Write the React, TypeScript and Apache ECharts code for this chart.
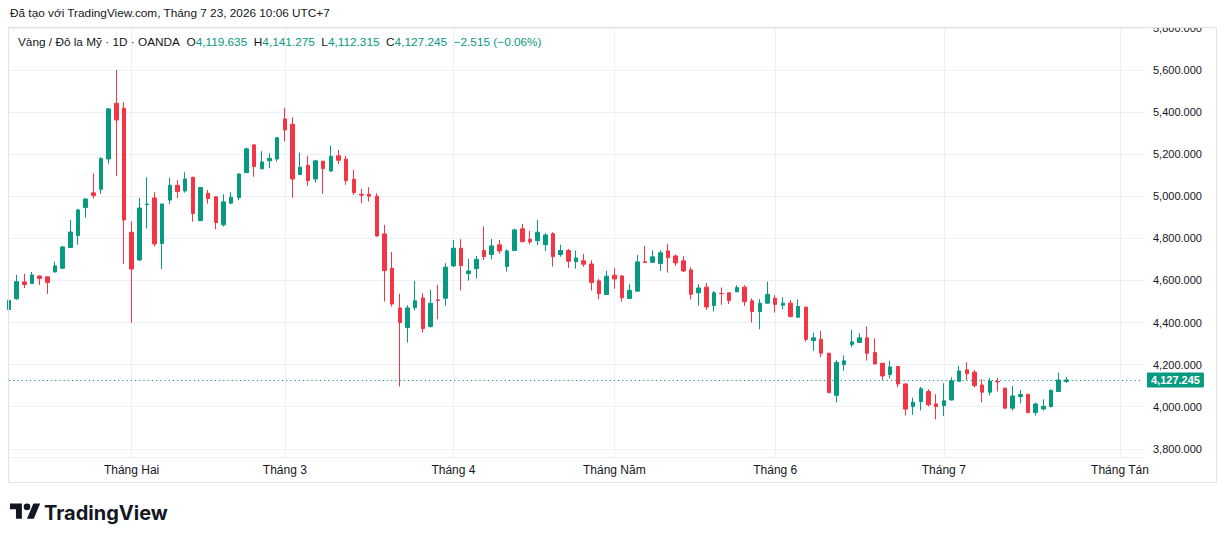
import React, { useEffect, useRef } from "react";
import * as echarts from "echarts";

// ---- Data ----
const tradingDays = [
  "2026-01-09","2026-01-12","2026-01-13","2026-01-14","2026-01-15","2026-01-16","2026-01-19","2026-01-20","2026-01-21","2026-01-22","2026-01-23","2026-01-26","2026-01-27","2026-01-28","2026-01-29","2026-01-30",
  "2026-02-02","2026-02-03","2026-02-04","2026-02-05","2026-02-06","2026-02-09","2026-02-10","2026-02-11","2026-02-12","2026-02-13","2026-02-16","2026-02-17","2026-02-18","2026-02-19","2026-02-20","2026-02-23","2026-02-24","2026-02-25","2026-02-26","2026-02-27",
  "2026-03-02","2026-03-03","2026-03-04","2026-03-05","2026-03-06","2026-03-09","2026-03-10","2026-03-11","2026-03-12","2026-03-13","2026-03-16","2026-03-17","2026-03-18","2026-03-19","2026-03-20","2026-03-23","2026-03-24","2026-03-25","2026-03-26","2026-03-27","2026-03-30","2026-03-31",
  "2026-04-01","2026-04-02","2026-04-06","2026-04-07","2026-04-08","2026-04-09","2026-04-10","2026-04-13","2026-04-14","2026-04-15","2026-04-16","2026-04-17","2026-04-20","2026-04-21","2026-04-22","2026-04-23","2026-04-24","2026-04-27","2026-04-28","2026-04-29","2026-04-30",
  "2026-05-01","2026-05-04","2026-05-05","2026-05-06","2026-05-07","2026-05-08","2026-05-11","2026-05-12","2026-05-13","2026-05-14","2026-05-15","2026-05-18","2026-05-19","2026-05-20","2026-05-21","2026-05-22","2026-05-25","2026-05-26","2026-05-27","2026-05-28","2026-05-29",
  "2026-06-01","2026-06-02","2026-06-03","2026-06-04","2026-06-05","2026-06-08","2026-06-09","2026-06-10","2026-06-11","2026-06-12","2026-06-15","2026-06-16","2026-06-17","2026-06-18","2026-06-19","2026-06-22","2026-06-23","2026-06-24","2026-06-25","2026-06-26","2026-06-29","2026-06-30",
  "2026-07-01","2026-07-02","2026-07-03","2026-07-06","2026-07-07","2026-07-08","2026-07-09","2026-07-10","2026-07-13","2026-07-14","2026-07-15","2026-07-16","2026-07-17","2026-07-20","2026-07-21","2026-07-22","2026-07-23","2026-07-24","2026-07-27","2026-07-28","2026-07-29","2026-07-30","2026-07-31",
  "2026-08-03","2026-08-04","2026-08-05","2026-08-06",
];

const opens = [
  4462,4513,4593,4585,4621,4617,4640,4658,4756,4813,
  4946,5016,5033,5177,5442,5418,4829,4697,4960,4992,
  4775,4982,5052,5025,5090,4884,5014,4997,4864,4967,
  4993,5112,5244,5130,5168,5177,5367,5342,5103,5147,
  5082,5166,5120,5192,5176,5081,5009,5009,5000,4821,
  4658,4469,4376,4471,4517,4381,4507,4515,4669,4753,
  4632,4656,4742,4723,4769,4666,4742,4845,4796,4789,
  4770,4822,4723,4742,4689,4693,4678,4598,4533,4625,
  4621,4514,4549,4689,4686,4680,4740,4716,4693,4650,
  4541,4568,4480,4538,4541,4546,4568,4503,4452,4492,
  4515,4482,4492,4425,4473,4314,4320,4254,4054,4200,
  4295,4305,4327,4257,4206,4153,4191,4108,4001,4024,
  4072,4013,4005,4032,4121,4175,4164,4103,4069,4121,
  4088,3993,4048,4059,3972,3989,4001,4072,4119.635,
];
const closes = [
  4505,4594,4580,4626,4609,4590,4669,4759,4830,4935,
  4987,5003,5179,5415,5362,4887,4654,4944,4963,4773,
  4963,5052,5022,5082,4918,5041,4989,4875,4973,4995,
  5106,5225,5141,5163,5180,5278,5315,5082,5138,5074,
  5168,5131,5190,5171,5074,5017,5005,5000,4811,4647,
  4488,4400,4469,4503,4371,4492,4505,4663,4753,4671,
  4645,4700,4713,4764,4740,4740,4840,4784,4783,4829,
  4816,4713,4742,4691,4707,4677,4590,4537,4620,4607,
  4518,4553,4688,4685,4712,4731,4708,4683,4645,4534,
  4564,4474,4541,4537,4504,4566,4499,4452,4492,4534,
  4486,4492,4428,4476,4320,4327,4254,4067,4210,4218,
  4308,4327,4254,4203,4146,4189,4108,3989,4021,4085,
  4009,4001,4028,4123,4170,4156,4100,4069,4122,4118,
  3993,4051,4058,3972,4013,4002,4077,4127,4127.245,
];
const lows = [
  4455,4508,4564,4583,4578,4536,4638,4655,4754,4769,
  4898,4989,5012,5155,5096,4678,4399,4692,4846,4761,
  4654,4963,4990,5017,4879,4882,4965,4843,4856,4962,
  4981,5110,5093,5128,5133,5165,5260,4993,5101,5050,
  5065,5012,5115,5152,5054,5006,4967,4975,4808,4499,
  4476,4096,4305,4457,4352,4376,4415,4480,4663,4552,
  4599,4609,4697,4700,4726,4642,4740,4782,4772,4767,
  4739,4666,4713,4659,4656,4665,4552,4511,4531,4561,
  4499,4512,4547,4683,4682,4645,4637,4670,4640,4509,
  4480,4460,4452,4484,4488,4544,4479,4400,4368,4490,
  4447,4463,4425,4423,4309,4265,4235,4064,4020,4170,
  4282,4303,4219,4200,4127,4134,4092,3958,3961,3982,
  4001,3940,3956,4030,4119,4127,4091,4021,4053,4072,
  3989,3982,4016,3969,3958,3982,3996,4070,4112.315,
];
const highs = [
  4512,4626,4631,4640,4623,4619,4689,4764,4887,4940,
  4989,5109,5185,5418,5600,5446,4881,4992,5090,5019,
  4965,5088,5076,5114,5092,5043,5030,4999,5009,5019,
  5108,5231,5246,5214,5204,5282,5420,5375,5207,5192,
  5173,5168,5240,5220,5192,5125,5035,5043,5014,4864,
  4735,4536,4482,4598,4539,4555,4579,4682,4792,4796,
  4702,4716,4856,4797,4792,4748,4846,4868,4835,4887,
  4824,4829,4769,4750,4742,4726,4696,4607,4645,4658,
  4626,4582,4721,4764,4743,4743,4773,4724,4715,4663,
  4582,4588,4550,4566,4543,4577,4577,4515,4511,4594,
  4530,4520,4507,4510,4475,4352,4360,4256,4222,4244,
  4365,4349,4381,4325,4208,4218,4194,4110,4043,4094,
  4083,4059,4111,4140,4194,4211,4175,4130,4137,4137,
  4090,4099,4080,4061,4020,4035,4083,4162,4141.275,
];

const monthNames: Record<number, string> = {
  1: "Tháng 1",
  2: "Tháng Hai",
  3: "Tháng 3",
  4: "Tháng 4",
  5: "Tháng Năm",
  6: "Tháng 6",
  7: "Tháng 7",
  8: "Tháng Tán",
};

const symbolTitle = "Vàng / Đô la Mỹ · 1D · OANDA";
const headerText = "Đã tạo với TradingView.com, Tháng 7 23, 2026 10:06 UTC+7";
const lastChange = "−2.515 (−0.06%)";

const UP = "#089981";
const DOWN = "#F23645";
const TEXT = "#131722";
const GRID = "#eef0f5";
const FONT = "'Liberation Sans', Arial, sans-serif";

const fmt = (v: number) =>
  v.toLocaleString("en-US", { minimumFractionDigits: 3, maximumFractionDigits: 3 });

const monthOf = (d: string) => parseInt(d.slice(5, 7), 10);
const isMonthStart = (i: number) => i > 0 && monthOf(tradingDays[i]) !== monthOf(tradingDays[i - 1]);

const LOGO_D = "M14 22H7V11H0V4h14v18zM28 22h-8l7.5-18h8L28 22zM24 8a4 4 0 1 1-8 0a4 4 0 1 1 8 0z";
let logoRegistered = false;

export default function App() {
  const ref = useRef<HTMLDivElement>(null);

  useEffect(() => {
    document.body.style.margin = "0";
    document.body.style.overflow = "hidden";
    if (!logoRegistered) {
      echarts.graphic.registerShape("tvlogo", echarts.graphic.extendPath(LOGO_D, {}));
      logoRegistered = true;
    }
    const chart = echarts.init(ref.current!, null, { renderer: "svg" });
    const candles = opens.map((o, i) => [o, closes[i], lows[i], highs[i]]);
    const n = opens.length - 1;
    const last = { o: opens[n], h: highs[n], l: lows[n], c: closes[n] };

    chart.setOption({
      animation: false,
      backgroundColor: "#ffffff",
      grid: { left: 9, right: 83, top: 27, bottom: 86, containLabel: false },
      xAxis: {
        type: "category",
        data: tradingDays,
        boundaryGap: false,
        axisLine: { show: false },
        axisTick: { show: false },
        axisLabel: {
          interval: (i: number) => isMonthStart(i),
          formatter: (v: string) => monthNames[monthOf(v)],
          color: TEXT,
          fontSize: 12,
          fontFamily: FONT,
          margin: 7,
        },
        splitLine: {
          show: true,
          interval: (i: number) => isMonthStart(i),
          lineStyle: { color: GRID, width: 1 },
        },
      },
      yAxis: {
        type: "value",
        position: "right",
        min: 3761,
        max: 5804,
        splitNumber: 10,
        scale: true,
        axisLine: { show: false },
        axisTick: { show: false },
        axisLabel: {
          formatter: (v: number) => (Math.abs(v % 200) < 1e-6 ? fmt(v) : ""),
          color: TEXT,
          fontSize: 11,
          fontFamily: FONT,
          margin: 10,
          showMinLabel: false,
        },
        splitLine: { show: true, lineStyle: { color: GRID, width: 1 } },
      },
      series: [
        {
          type: "candlestick",
          data: candles,
          barWidth: 4,
          clip: true,
          itemStyle: {
            color: UP,
            color0: DOWN,
            borderColor: UP,
            borderColor0: DOWN,
            borderWidth: 1,
          },
          markLine: {
            silent: true,
            symbol: ["none", "none"],
            data: [{ yAxis: last.c }],
            lineStyle: { color: UP, type: [1.2, 3], width: 1.2, opacity: 1 },
            label: {
              show: true,
              position: "end",
              distance: 4,
              formatter: () => fmt(last.c),
              color: "#ffffff",
              backgroundColor: UP,
              padding: [2, 4, 2, 4],
              borderRadius: 1,
              fontSize: 11,
              fontWeight: "bold",
              fontFamily: FONT,
            },
          },
        },
      ],
      graphic: [
        {
          type: "text",
          x: 10,
          y: 13,
          z: 100,
          style: {
            text: headerText,
            fill: TEXT,
            fontSize: 11.8,
            fontFamily: FONT,
            verticalAlign: "middle",
          },
        },
        {
          type: "rect",
          z: 99,
          shape: { x: 1144, y: 15, width: 72, height: 12.5 },
          style: { fill: "#ffffff" },
        },
        {
          type: "rect",
          z: 100,
          shape: { x: 8.5, y: 27.5, width: 1208, height: 455 },
          style: { fill: "none", stroke: "#e0e3eb", lineWidth: 1 },
        },
        {
          type: "text",
          x: 18,
          y: 42,
          z: 100,
          style: {
            text:
              `{n|${symbolTitle}}  ` +
              `{k|O}{v|${fmt(last.o)}}  {k|H}{v|${fmt(last.h)}}  {k|L}{v|${fmt(last.l)}}  {k|C}{v|${fmt(last.c)}}  {v|${lastChange}}`,
            fontSize: 11.8,
            fontFamily: FONT,
            verticalAlign: "middle",
            rich: {
              n: { fill: TEXT, fontSize: 11.8, fontFamily: FONT },
              k: { fill: TEXT, fontSize: 11.8, fontFamily: FONT },
              v: { fill: UP, fontSize: 11.8, fontFamily: FONT },
            },
          },
        },
        {
          type: "tvlogo",
          x: 10,
          y: 500,
          scaleX: 0.85,
          scaleY: 0.85,
          z: 100,
          style: { fill: TEXT },
        },
        {
          type: "text",
          x: 44,
          y: 513,
          z: 100,
          style: {
            text: "TradingView",
            fill: TEXT,
            fontSize: 20,
            fontWeight: 700,
            fontFamily: "Inter, 'Noto Sans', sans-serif",
            verticalAlign: "middle",
          },
        },
      ],
    });

    return () => chart.dispose();
  }, []);

  return <div ref={ref} style={{ width: 1226, height: 543 }} />;
}
